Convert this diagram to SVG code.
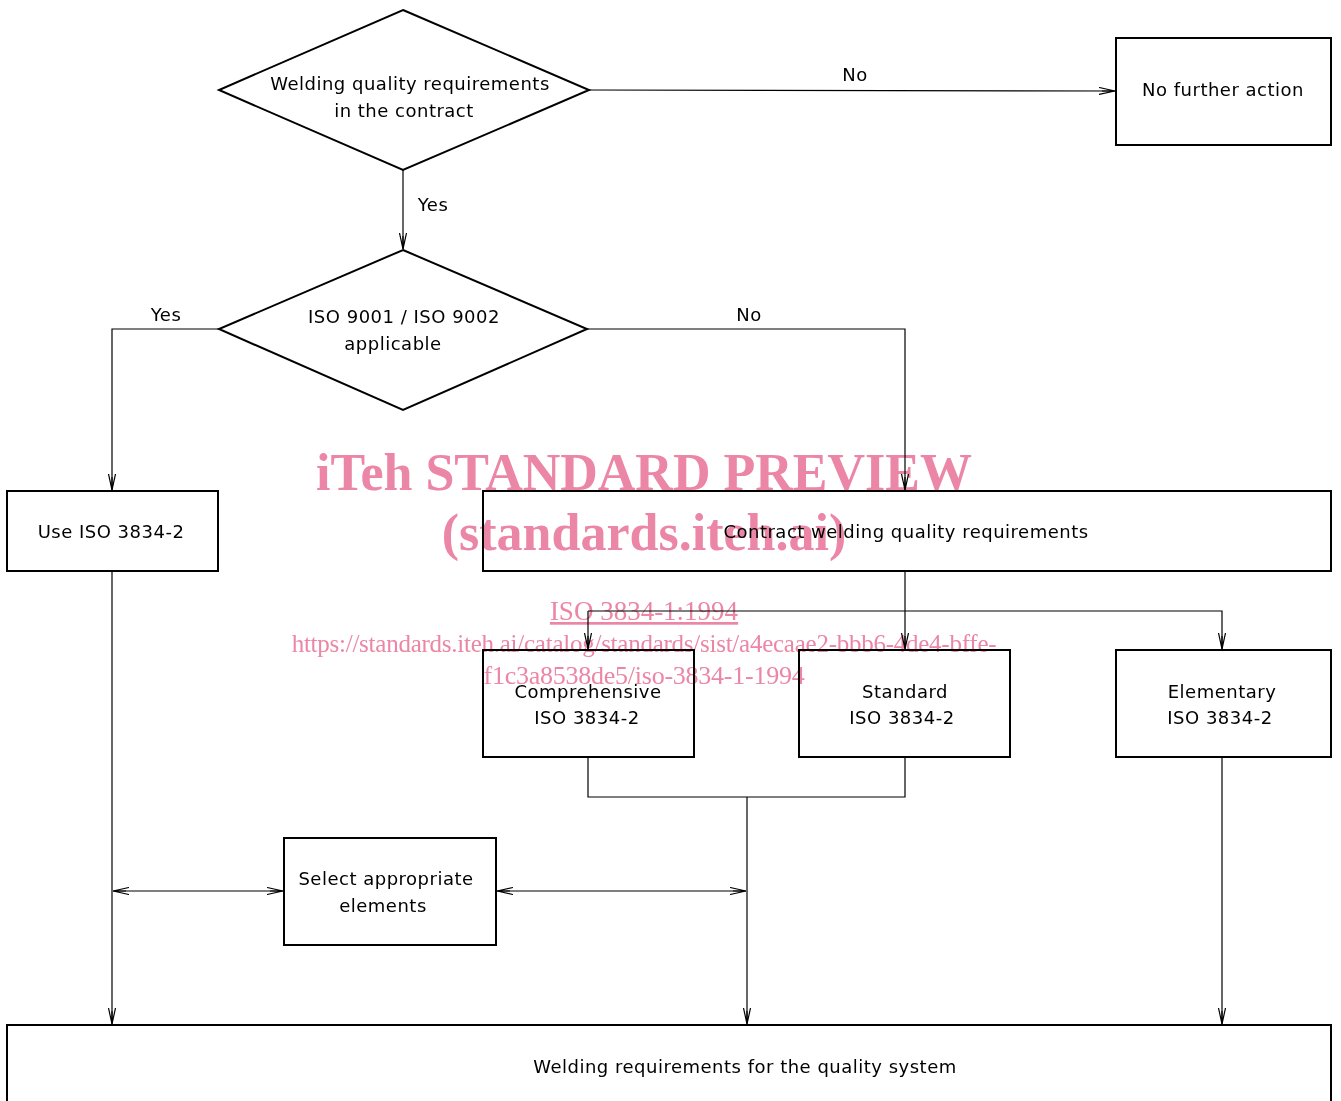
<svg xmlns="http://www.w3.org/2000/svg" width="1341" height="1101" viewBox="0 0 1341 1101">
<style>
.box{fill:#fff;stroke:#000;stroke-width:2}
.ln{fill:none;stroke:#000;stroke-width:1.2}
.t{font-family:"DejaVu Sans","Liberation Sans",sans-serif;font-size:18px;fill:#000;text-anchor:middle;letter-spacing:0.5px}
.wm{font-family:"Liberation Serif",serif;fill:#ec86a6;text-anchor:middle;mix-blend-mode:multiply}
</style>
<defs>
<marker id="a" viewBox="0 0 16 8" refX="16" refY="4" markerWidth="16" markerHeight="8" markerUnits="userSpaceOnUse" orient="auto-start-reverse">
<path d="M0,0.5 L16,4 L0,7.5 M16,4 L3,4" fill="none" stroke="#000" stroke-width="1.2"/>
</marker>
</defs>
<rect width="1341" height="1101" fill="#fff"/>
<g id="connectors">
<line class="ln" x1="589" y1="90" x2="1115" y2="91" marker-end="url(#a)"/>
<line class="ln" x1="403" y1="170" x2="403" y2="249" marker-end="url(#a)"/>
<polyline class="ln" points="219,329 112,329 112,490" marker-end="url(#a)"/>
<polyline class="ln" points="587,329 905,329 905,490" marker-end="url(#a)"/>
<line class="ln" x1="905" y1="571" x2="905" y2="649" marker-end="url(#a)"/>
<polyline class="ln" points="588,611 1222,611 1222,649" marker-end="url(#a)"/>
<line class="ln" x1="588" y1="611" x2="588" y2="649" marker-end="url(#a)"/>
<polyline class="ln" points="588,757 588,797 905,797 905,757"/>
<line class="ln" x1="747" y1="797" x2="747" y2="1024" marker-end="url(#a)"/>
<line class="ln" x1="112" y1="571" x2="112" y2="1024" marker-end="url(#a)"/>
<line class="ln" x1="1222" y1="757" x2="1222" y2="1024" marker-end="url(#a)"/>
<line class="ln" x1="113" y1="891" x2="283" y2="891" marker-start="url(#a)" marker-end="url(#a)"/>
<line class="ln" x1="497" y1="891" x2="746" y2="891" marker-start="url(#a)" marker-end="url(#a)"/>
<text class="t" x="855" y="81">No</text>
<text class="t" x="433" y="211">Yes</text>
<text class="t" x="166" y="321">Yes</text>
<text class="t" x="749" y="321">No</text>
</g>
<g id="d1">
<polygon class="box" points="403,10 589,90 403,170 219,90"/>
<text class="t" x="410" y="90">Welding quality requirements</text>
<text class="t" x="404" y="117">in the contract</text>
</g>
<g id="nofurther">
<rect class="box" x="1116" y="38" width="215" height="107"/>
<text class="t" x="1223" y="96">No further action</text>
</g>
<g id="d2">
<polygon class="box" points="403,250 587,329 403,410 219,329"/>
<text class="t" x="404" y="323">ISO 9001 / ISO 9002</text>
<text class="t" x="393" y="350">applicable</text>
</g>
<g id="use">
<rect class="box" x="7" y="491" width="211" height="80"/>
<text class="t" x="111" y="538">Use ISO 3834-2</text>
</g>
<g id="contract">
<rect class="box" x="483" y="491" width="848" height="80"/>
<text class="t" x="906" y="538">Contract welding quality requirements</text>
</g>
<g id="comp">
<rect class="box" x="483" y="650" width="211" height="107"/>
<text class="t" x="588" y="698">Comprehensive</text>
<text class="t" x="587" y="724">ISO 3834-2</text>
</g>
<g id="std">
<rect class="box" x="799" y="650" width="211" height="107"/>
<text class="t" x="905" y="698">Standard</text>
<text class="t" x="902" y="724">ISO 3834-2</text>
</g>
<g id="elem">
<rect class="box" x="1116" y="650" width="215" height="107"/>
<text class="t" x="1222" y="698">Elementary</text>
<text class="t" x="1220" y="724">ISO 3834-2</text>
</g>
<g id="select">
<rect class="box" x="284" y="838" width="212" height="107"/>
<text class="t" x="386" y="885">Select appropriate</text>
<text class="t" x="383" y="912">elements</text>
</g>
<g id="bottom">
<rect class="box" x="7" y="1025" width="1324" height="90"/>
<text class="t" x="745" y="1073">Welding requirements for the quality system</text>
</g>
<g id="watermark">
<text class="wm" x="644" y="490" font-size="52" font-weight="bold">iTeh STANDARD PREVIEW</text>
<text class="wm" x="644" y="550" font-size="52" font-weight="bold">(standards.iteh.ai)</text>
<text class="wm" x="644" y="620" font-size="27" text-decoration="underline">ISO 3834-1:1994</text>
<text class="wm" x="644" y="652" font-size="25" letter-spacing="-0.25">https://standards.iteh.ai/catalog/standards/sist/a4ecaae2-bbb6-4de4-bffe-</text>
<text class="wm" x="644" y="684" font-size="26" letter-spacing="-0.25">f1c3a8538de5/iso-3834-1-1994</text>
</g>
</svg>
